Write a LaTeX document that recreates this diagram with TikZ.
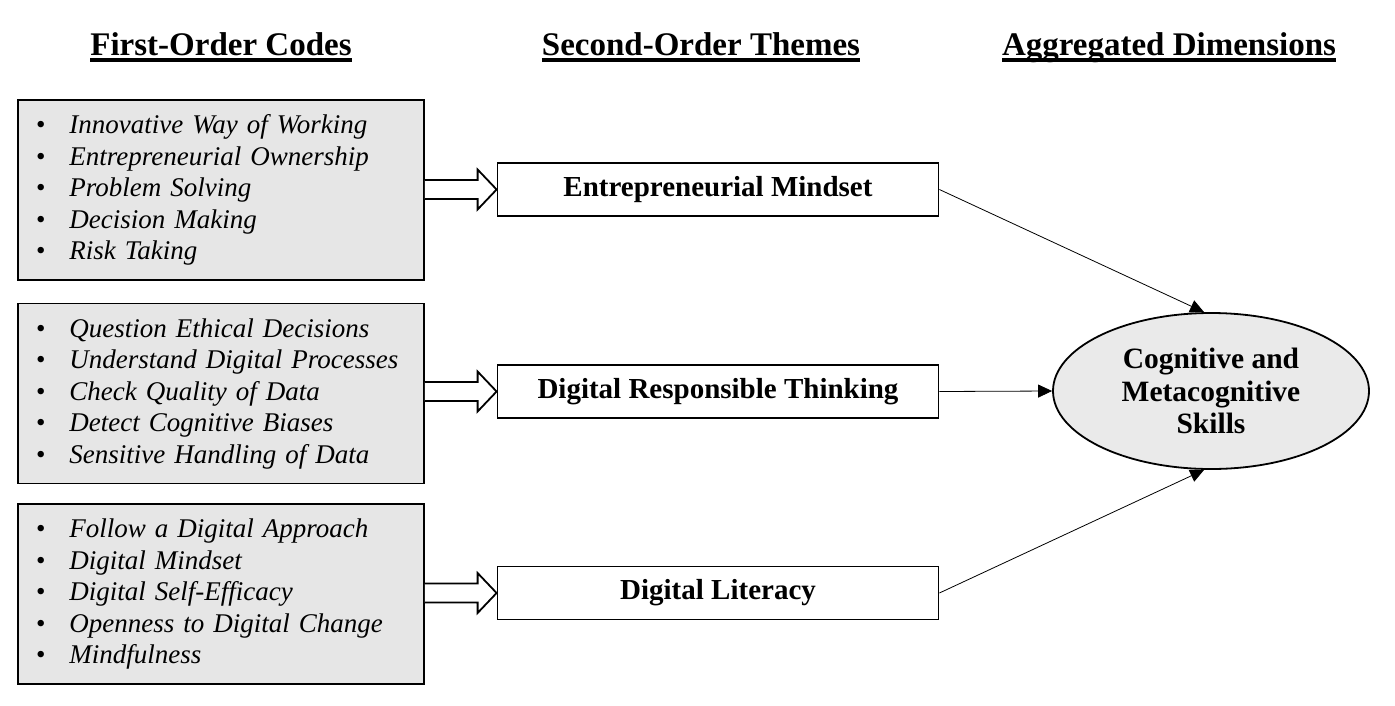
\documentclass[tikz,border=0pt]{standalone}
\usepackage{fontspec}
\setmainfont{Liberation Serif}
\usetikzlibrary{calc,arrows.meta,shapes.geometric}
\definecolor{boxgray}{HTML}{E6E6E6}
\definecolor{ellgray}{HTML}{EAEAEA}
\newcommand\hdrul[1]{\setbox0\hbox{#1}\rlap{\rule[-6.5pt]{\wd0}{3.5pt}}\box0}
\newcommand\itm[1]{\textbullet\hspace{24pt}\textit{#1}}
\begin{document}
\begin{tikzpicture}[x=1pt,y=1pt]
\useasboundingbox (0,0) rectangle (1395,-705);
\tikzset{
  hdr/.style={anchor=base, inner sep=0pt, font=\fontsize{33}{36}\selectfont\bfseries},
  codebox/.style={draw, line width=1.8pt, fill=boxgray, minimum width=406pt, minimum height=180pt,
    inner sep=0pt, text width=370pt, align=left, font=\fontsize{27}{31.5}\selectfont},
  themebox/.style={draw, line width=1.8pt, fill=white, minimum width=441pt, minimum height=53pt,
    inner sep=0pt, font=\fontsize{29}{32}\selectfont\bfseries},
  dimell/.style={ellipse, draw, line width=1.8pt, fill=ellgray, minimum width=316pt, minimum height=156pt,
    inner sep=0pt, align=center, font=\fontsize{29.5}{32.5}\selectfont\bfseries},
  dblarr/.style={draw, line width=1.8pt, fill=white, line join=miter},
  link/.style={draw, line width=0.8pt, -{Triangle[length=14pt,width=13pt]}}
}
\node[hdr] (h1) at (221,-55) {\hdrul{First-Order Codes}};
\node[hdr] (h2) at (701,-55) {\hdrul{Second-Order Themes}};
\node[hdr] (h3) at (1169,-55) {\hdrul{Aggregated Dimensions}};

\node[codebox] (c1) at (221,-190) {\itm{Innovative Way of Working}\\ \itm{Entrepreneurial Ownership}\\ \itm{Problem Solving}\\ \itm{Decision Making}\\ \itm{Risk Taking}};
\node[codebox] (c2) at (221,-393.5) {\itm{Question Ethical Decisions}\\ \itm{Understand Digital Processes}\\ \itm{Check Quality of Data}\\ \itm{Detect Cognitive Biases}\\ \itm{Sensitive Handling of Data}};
\node[codebox] (c3) at (221,-594) {\itm{Follow a Digital Approach}\\ \itm{Digital Mindset}\\ \itm{Digital Self-Efficacy}\\ \itm{Openness to Digital Change}\\ \itm{Mindfulness}};

\node[themebox] (t1) at (718,-189.5) {Entrepreneurial Mindset};
\node[themebox] (t2) at (718,-391.5) {Digital Responsible Thinking};
\node[themebox] (t3) at (718,-593) {Digital Literacy};

\node[dimell] (e) at (1211,-391) {Cognitive and\\Metacognitive\\Skills};

\foreach \c/\t in {c1/t1,c2/t2,c3/t3}{
  \path[dblarr] ($(\c.east |- \t.west)+(0,9.5)$) -- ($(\t.west)+(-19,9.5)$) -- ($(\t.west)+(-19,20)$)
    -- (\t.west) -- ($(\t.west)+(-19,-20)$) -- ($(\t.west)+(-19,-9.5)$) -- ($(\c.east |- \t.west)+(0,-9.5)$);
}
\draw[link] (t1.east) -- (e.95);
\draw[link] (t2.east) -- (e.west);
\draw[link] (t3.east) -- (e.265);
\end{tikzpicture}
\end{document}
